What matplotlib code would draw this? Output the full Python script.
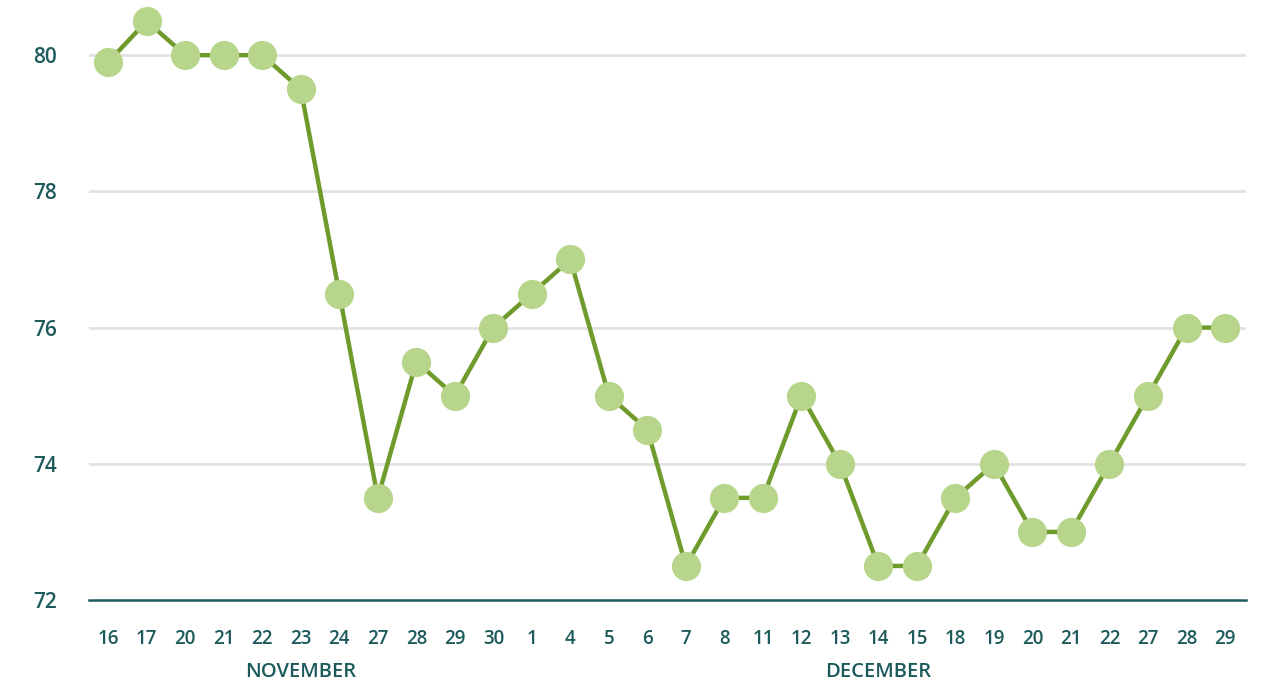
import matplotlib.pyplot as plt

days = ["16", "17", "20", "21", "22", "23", "24", "27", "28", "29", "30",
        "1", "4", "5", "6", "7", "8", "11", "12", "13", "14", "15", "18",
        "19", "20", "21", "22", "27", "28", "29"]
values = [79.9, 80.5, 80.0, 80.0, 80.0, 79.5, 76.5, 73.5, 75.5, 75.0, 76.0,
          76.5, 77.0, 75.0, 74.5, 72.5, 73.5, 73.5, 75.0, 74.0, 72.5, 72.5, 73.5,
          74.0, 73.0, 73.0, 74.0, 75.0, 76.0, 76.0]
months = ["NOVEMBER", "DECEMBER"]
month_counts = [11, 19]
yticks = [72, 74, 76, 78, 80]

TEXT = "#1D5A5C"
LINE = "#6F9A2C"
MARK = "#B7D58B"
GRID = "#E2E2E2"

plt.rcParams["font.family"] = ["Open Sans", "DejaVu Sans"]

fig = plt.figure(figsize=(12.62, 6.85), dpi=100)
ax = fig.add_axes([89 / 1262, 1 - 600 / 685, (1246 - 89) / 1262, (600 - 7.5) / 685])

x = list(range(len(values)))
ax.plot(x, values, color=LINE, lw=3.2, marker="o", markersize=21,
        markerfacecolor=MARK, markeredgecolor=MARK, markeredgewidth=0,
        zorder=3, clip_on=False)

ax.set_xlim(-0.5, len(values) - 1 + 0.545)
ax.set_ylim(72, 80.7)
ax.set_yticks(yticks)
ax.set_yticklabels([str(t) for t in yticks])
ax.set_xticks(x)
ax.set_xticklabels(days)

for t in yticks[1:]:
    ax.axhline(t, color=GRID, lw=2.0, zorder=1)

for s in ["top", "right", "left"]:
    ax.spines[s].set_visible(False)
ax.spines["bottom"].set_color(TEXT)
ax.spines["bottom"].set_linewidth(1.8)

ax.tick_params(axis="both", length=0, colors=TEXT)
ax.tick_params(axis="x", pad=21, labelsize=13.5)
ax.tick_params(axis="y", pad=23, labelsize=15)
for lbl in ax.get_xticklabels() + ax.get_yticklabels():
    lbl.set_fontweight("semibold")

start = 0
for name, n in zip(months, month_counts):
    center = start + (n - 1) / 2
    ax.text(center, -0.121, name, transform=ax.get_xaxis_transform(),
            ha="center", va="center", fontsize=14.5, color=TEXT,
            fontweight="semibold")
    start += n

fig.savefig("out.png", dpi=100)
